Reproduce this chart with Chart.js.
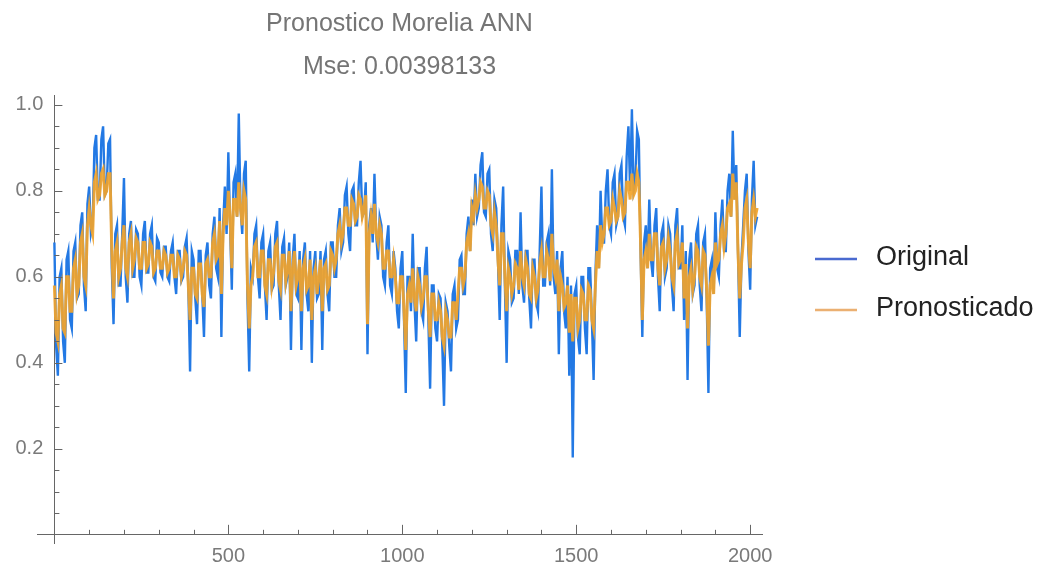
<!DOCTYPE html>
<html>
<head>
<meta charset="utf-8">
<script src="https://cdn.jsdelivr.net/npm/chart.js@4/dist/chart.umd.min.js"></script>
<style>
  html, body { margin: 0; padding: 0; background: #fff; }
  #wrap { width: 1042px; height: 564px; }
</style>
</head>
<body>
<div id="wrap"><canvas id="myChart" width="1042" height="564"></canvas></div>
<script>
// samples, one every 5 steps of the x axis
var step = 5;

var original = [
  .68,.44,.37,.60,.62,.45,.40,.64,.66,.50,.48,.66,.68,.55,.56,.72,.75,.58,.52,.77,
  .81,.70,.72,.90,.93,.78,.78,.92,.95,.79,.80,.91,.92,.62,.49,.70,.72,.58,.58,.70,
  .83,.60,.54,.70,.73,.60,.60,.71,.70,.60,.58,.70,.73,.61,.61,.70,.72,.60,.59,.69,
  .68,.61,.60,.67,.67,.60,.59,.66,.68,.60,.56,.66,.66,.59,.60,.67,.69,.58,.38,.66,
  .64,.55,.49,.66,.66,.56,.46,.65,.68,.58,.55,.70,.74,.62,.60,.76,.46,.72,.81,.70,
  .89,.72,.57,.82,.84,.74,.98,.76,.70,.84,.87,.55,.38,.62,.60,.70,.72,.60,.55,.68,
  .70,.58,.50,.66,.68,.57,.58,.70,.73,.58,.50,.67,.69,.58,.60,.68,.43,.64,.70,.56,
  .55,.66,.43,.64,.68,.56,.52,.66,.40,.62,.66,.55,.56,.66,.43,.64,.66,.56,.52,.68,
  .68,.60,.60,.72,.76,.66,.68,.79,.81,.70,.66,.80,.81,.72,.72,.82,.87,.74,.75,.82,
  .42,.72,.76,.68,.84,.70,.64,.74,.72,.60,.58,.68,.72,.58,.56,.66,.62,.52,.48,.62,
  .66,.50,.33,.60,.60,.52,.70,.54,.45,.62,.62,.52,.50,.62,.67,.50,.34,.58,.58,.48,
  .45,.56,.55,.44,.30,.54,.52,.44,.38,.56,.58,.48,.50,.64,.65,.56,.56,.70,.74,.66,
  .78,.72,.84,.74,.76,.86,.89,.75,.74,.84,.85,.70,.66,.78,.76,.64,.50,.72,.81,.58,
  .40,.66,.64,.54,.55,.66,.66,.56,.75,.58,.54,.66,.66,.55,.48,.64,.64,.54,.52,.66,
  .81,.58,.58,.68,.70,.58,.85,.60,.56,.66,.42,.62,.66,.52,.48,.60,.37,.58,.18,.56,
  .58,.46,.42,.60,.60,.48,.42,.62,.62,.50,.36,.60,.72,.62,.80,.68,.68,.80,.85,.72,
  .70,.82,.84,.72,.74,.84,.86,.74,.72,.88,.95,.80,.99,.80,.82,.94,.92,.66,.46,.68,
  .72,.62,.78,.64,.60,.72,.76,.60,.52,.70,.72,.60,.62,.72,.70,.58,.52,.72,.76,.62,
  .62,.72,.50,.66,.36,.64,.68,.56,.58,.70,.72,.58,.52,.68,.70,.55,.33,.62,.64,.56,
  .75,.62,.60,.72,.78,.66,.66,.80,.84,.74,.94,.78,.86,.66,.46,.64,.72,.80,.84,.66,
  .57,.78,.87,.72,.74
];

var pronosticado = [
  .58,.47,.45,.56,.58,.48,.47,.60,.60,.52,.52,.62,.64,.56,.58,.68,.70,.60,.58,.72,
  .76,.72,.70,.82,.84,.78,.79,.84,.85,.79,.80,.84,.84,.66,.55,.66,.68,.60,.62,.68,
  .72,.62,.60,.68,.70,.62,.64,.69,.68,.62,.62,.68,.68,.62,.63,.68,.67,.61,.62,.66,
  .66,.62,.62,.66,.65,.61,.62,.65,.65,.60,.60,.65,.64,.60,.62,.66,.65,.58,.50,.62,
  .62,.56,.55,.63,.63,.56,.53,.63,.64,.60,.60,.68,.70,.64,.65,.73,.56,.70,.76,.72,
  .80,.74,.62,.78,.78,.74,.82,.76,.72,.80,.78,.58,.48,.58,.60,.67,.68,.60,.60,.66,
  .66,.58,.56,.64,.64,.58,.61,.67,.68,.59,.57,.65,.65,.59,.62,.66,.52,.62,.66,.58,
  .60,.64,.52,.62,.64,.57,.58,.64,.50,.60,.62,.56,.60,.64,.52,.62,.63,.57,.58,.66,
  .65,.62,.64,.70,.72,.68,.70,.76,.76,.72,.72,.78,.77,.73,.74,.79,.78,.74,.76,.79,
  .49,.70,.74,.70,.77,.70,.68,.72,.70,.62,.62,.66,.66,.60,.60,.64,.60,.54,.54,.60,
  .60,.52,.43,.56,.58,.54,.62,.55,.52,.60,.58,.53,.55,.60,.60,.52,.46,.56,.56,.50,
  .50,.54,.52,.46,.44,.52,.50,.46,.46,.54,.54,.50,.56,.62,.62,.58,.60,.68,.70,.66,
  .76,.74,.79,.76,.78,.82,.81,.76,.76,.80,.79,.72,.70,.75,.72,.64,.58,.70,.70,.60,
  .52,.62,.60,.56,.58,.63,.62,.57,.66,.60,.58,.64,.62,.56,.55,.62,.60,.55,.57,.63,
  .66,.60,.60,.66,.64,.59,.70,.62,.60,.64,.52,.60,.58,.53,.54,.58,.47,.56,.45,.55,
  .55,.48,.50,.57,.56,.50,.50,.58,.57,.50,.48,.58,.66,.62,.72,.68,.70,.76,.76,.72,
  .73,.78,.76,.73,.74,.80,.78,.74,.75,.82,.82,.78,.84,.79,.80,.84,.82,.68,.50,.64,
  .66,.62,.70,.64,.64,.70,.70,.62,.58,.67,.68,.62,.64,.69,.66,.60,.58,.68,.70,.63,
  .64,.68,.55,.63,.48,.60,.62,.57,.60,.67,.66,.60,.58,.66,.65,.57,.44,.58,.60,.56,
  .68,.63,.64,.70,.72,.67,.70,.76,.77,.74,.84,.78,.82,.66,.55,.63,.68,.76,.78,.68,
  .62,.75,.78,.74,.76
];

var xTickLabels = [500, 1000, 1500, 2000];
var yTickLabels = [0.2, 0.4, 0.6, 0.8, 1.0];
var titleLines = ['Pronostico Morelia ANN', 'Mse: 0.00398133'];
var seriesNames = ['Original', 'Pronosticado'];

function toPoints(values) {
    var pts = [];
    for (var i = 0; i < values.length; i++) {
        pts.push({x: i * step, y: values[i]});
    }
    return pts;
}

function isYLabel(v) {
    for (var i = 0; i < yTickLabels.length; i++) {
        if (Math.abs(v - yTickLabels[i]) < 1e-6) return true;
    }
    return false;
}

// mathematica style ticks, pointing into the plot
var innerTicks = {
    id: 'innerTicks',
    afterDraw: function(chart) {
        var ctx = chart.ctx;
        var xs = chart.scales.x, ys = chart.scales.y;
        var x0 = xs.getPixelForValue(0), y0 = ys.getPixelForValue(0);
        ctx.save();
        ctx.strokeStyle = '#666';
        ctx.lineWidth = 1;
        xs.ticks.forEach(function(t) {
            if (t.value <= 0) return;
            var px = Math.round(xs.getPixelForValue(t.value)) + 0.5;
            var len = xTickLabels.indexOf(t.value) >= 0 ? 10 : 5;
            ctx.beginPath();
            ctx.moveTo(px, y0);
            ctx.lineTo(px, y0 - len);
            ctx.stroke();
        });
        ys.ticks.forEach(function(t) {
            if (t.value <= 0) return;
            var py = Math.round(ys.getPixelForValue(t.value)) + 0.5;
            var len = isYLabel(t.value) ? 8 : 5;
            ctx.beginPath();
            ctx.moveTo(x0, py);
            ctx.lineTo(x0 + len, py);
            ctx.stroke();
        });
        ctx.restore();
    }
};

// legend on the right, drawn from the datasets
var sideLegend = {
    id: 'sideLegend',
    afterDraw: function(chart) {
        var ctx = chart.ctx;
        var rows = [259, 310];
        ctx.save();
        ctx.font = '27px "Liberation Sans", Arial, sans-serif';
        ctx.textBaseline = 'middle';
        ctx.fillStyle = '#222';
        chart.data.datasets.forEach(function(ds, i) {
            ctx.strokeStyle = ds.legendColor;
            ctx.lineWidth = 2.5;
            ctx.beginPath();
            ctx.moveTo(815, rows[i]);
            ctx.lineTo(857, rows[i]);
            ctx.stroke();
            ctx.fillText(ds.label, 876, rows[i] - 1);
        });
        ctx.restore();
    }
};

var ctx = document.getElementById('myChart').getContext('2d');
var myChart = new Chart(ctx, {
    type: 'line',
    data: {
        datasets: [
            {
                label: seriesNames[0],
                data: toPoints(original),
                borderColor: '#2379e4',
                legendColor: '#4a6ad0',
                borderWidth: 2.4,
                pointRadius: 0,
                fill: false,
                tension: 0,
                order: 2
            },
            {
                label: seriesNames[1],
                data: toPoints(pronosticado),
                borderColor: 'rgba(241,164,44,0.93)',
                legendColor: '#ebb072',
                borderWidth: 3,
                pointRadius: 0,
                fill: false,
                tension: 0,
                order: 1
            }
        ]
    },
    options: {
        responsive: false,
        animation: false,
        layout: { padding: { left: 37, right: 280, top: 0, bottom: 21 } },
        plugins: {
            legend: { display: false },
            tooltip: { enabled: false },
            title: {
                display: true,
                fullSize: false,
                text: titleLines,
                color: '#757575',
                font: { family: '"Liberation Sans", Arial, sans-serif', size: 25, weight: 'normal', lineHeight: 1.72 },
                padding: { top: 3, bottom: 6 }
            }
        },
        scales: {
            x: {
                type: 'linear',
                position: { y: 0 },
                min: -50,
                max: 2034,
                grid: { display: false },
                border: { display: true, color: '#666', width: 1 },
                ticks: {
                    stepSize: 100,
                    autoSkip: false,
                    includeBounds: false,
                    maxRotation: 0,
                    padding: 2,
                    color: '#7a7a7a',
                    font: { family: '"Liberation Sans", Arial, sans-serif', size: 20 },
                    callback: function(v) { return xTickLabels.indexOf(v) >= 0 ? String(v) : ''; }
                }
            },
            y: {
                type: 'linear',
                position: { x: 0 },
                min: -0.019,
                max: 1.023,
                grid: { display: false },
                border: { display: true, color: '#666', width: 1 },
                ticks: {
                    stepSize: 0.05,
                    autoSkip: false,
                    includeBounds: false,
                    color: '#7a7a7a',
                    font: { family: '"Liberation Sans", Arial, sans-serif', size: 20 },
                    callback: function(v) { return isYLabel(v) ? v.toFixed(1) + '  ' : ''; }
                }
            }
        }
    },
    plugins: [innerTicks, sideLegend]
});
</script>
</body>
</html>
